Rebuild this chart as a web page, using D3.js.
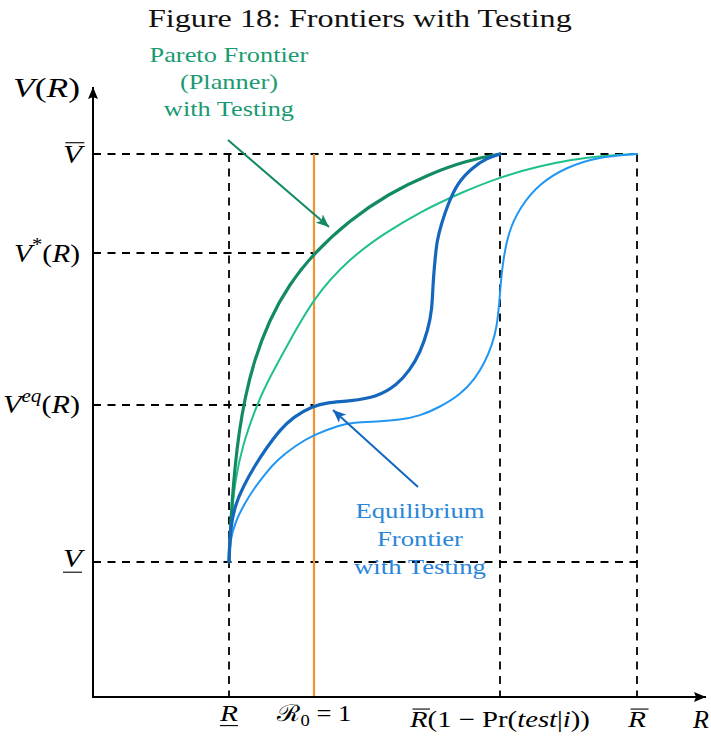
<!DOCTYPE html>
<html><head><meta charset="utf-8">
<script src="https://cdn.jsdelivr.net/npm/d3@7"></script>
<style>html,body{margin:0;padding:0;background:#fff;} svg{display:block;}</style>
</head><body>
<script>
// ---- data (conceptual units) ----
const xLevels = [27.2, 44.2, 81.4, 108.8];          // R_low, R0=1, Rbar(1-Pr(test|i)), Rbar
const yLevels = [27.0, 58.4, 88.8, 108.6];          // V_low, V_eq, V*, V_bar
const paretoX  = [27.2,27.4,27.8,28.4,29.2,30.4,32.2,35.2,39.2,44.2,51.2,59.2,67.2,75.2,81.4];
const paretoY  = [27.0,31.8,38.9,46.1,52.9,59.9,67.2,75.3,82.5,88.8,95.3,100.7,104.6,107.4,108.6];
const paretoNoX = [27.2,27.6,28.4,30.0,32.4,34.4,39.0,44.2,51.4,58.4,65.4,73.4,81.4,89.4,95.4,101.4,108.8];
const paretoNoY = [27.0,35.0,43.4,50.6,57.4,62.2,70.6,80.0,87.8,92.8,97.0,100.8,104.0,106.2,107.4,108.2,108.6];
const eqX = [27.2,27.4,28.4,30.0,32.2,34.8,37.4,40.0,44.0,46.8,51.4,56.8,60.8,63.4,65.4,67.0,67.8,68.0,68.4,68.8,69.8,70.8,72.8,76.0,78.8,81.4];
const eqY = [27.0,33.4,38.4,42.0,46.0,50.0,53.4,56.0,58.2,58.9,59.2,60.0,62.4,65.4,68.8,73.4,77.4,82.8,87.4,91.4,95.0,98.0,102.8,106.0,107.8,108.6];
const eqNoX = [27.2,27.4,28.6,30.4,32.0,34.4,36.8,40.4,44.0,49.4,52.0,56.8,61.4,65.4,69.4,73.4,76.4,78.4,79.8,80.8,81.3,81.6,82.0,83.0,85.4,89.4,94.8,100.8,108.8];
const eqNoY = [27.0,31.4,35.4,38.8,41.4,44.6,47.4,50.2,52.4,54.4,54.9,55.1,55.4,56.2,58.0,60.4,63.6,67.0,70.4,74.0,79.4,83.4,87.0,92.8,98.0,102.8,106.0,108.0,108.6];
const arrowGreen = [[27.0,111.4],[47.2,94.0]];
const arrowBlue  = [[65.0,42.0],[48.0,57.4]];
const titleText  = 'Figure 18: Frontiers with Testing';
const greenLabel = ['Pareto Frontier', '(Planner)', 'with Testing'];
const blueLabel  = ['Equilibrium', 'Frontier', 'with Testing'];

const W = 711, H = 740;
const SERIF = "'Liberation Serif', 'DejaVu Serif', serif";
const svg = d3.select('body').append('svg').attr('width', W).attr('height', H);
const x = d3.scaleLinear().domain([0,122]).range([93,703]);
const y = d3.scaleLinear().domain([0,121]).range([697,92]);

const cPareto = '#138a66', cParetoNo = '#1fc08d', cEq = '#1467bd', cEqNo = '#2196f3', cOrange = '#f39230';

const defs = svg.append('defs');
function marker(id, color, len, wid) {
  defs.append('marker').attr('id', id).attr('viewBox', `0 0 ${len} ${wid}`)
    .attr('refX', len).attr('refY', wid/2).attr('markerWidth', len).attr('markerHeight', wid)
    .attr('markerUnits', 'userSpaceOnUse').attr('orient', 'auto')
    .append('path').attr('d', `M0,0 L${len},${wid/2} L0,${wid} L${len*0.25},${wid/2} Z`).attr('fill', color);
}
marker('mg', cPareto, 13, 11);
marker('mb', cEq, 13, 11);
defs.append('marker').attr('id','mk').attr('viewBox','0 0 12 10').attr('refX',12).attr('refY',5)
  .attr('markerWidth',12).attr('markerHeight',10).attr('markerUnits','userSpaceOnUse').attr('orient','auto')
  .append('path').attr('d','M0,0 L12,5 L0,10 L2,5 Z').attr('fill','#000');

// horizontally stretched serif text (Computer-Modern-like width)
function plainText(str, cx, by, size, color, sx) {
  const g = svg.append('g');
  const t = g.append('text').attr('x', 0).attr('y', by).attr('font-family', SERIF)
    .attr('font-size', size).attr('fill', color).text(str);
  const w = t.node().getComputedTextLength();
  g.attr('transform', `translate(${cx - w*sx/2},0) scale(${sx},1)`);
}
function widthOf(str, size) {
  const t = svg.append('text').attr('font-family', SERIF).attr('font-size', size).text(str);
  const w = t.node().getComputedTextLength(); t.remove(); return w;
}

// title
plainText(titleText, 360, 27, 26, '#111', 424 / widthOf(titleText, 26));

// dashed guides
const [RL, R0, RT, RB] = xLevels;
const [VL, VE, VS, VB] = yLevels;
const dashes = [
  [0, VB, RB, VB], [0, VS, R0, VS], [0, VE, R0, VE], [0, VL, RB, VL],
  [RL, VB, RL, 0], [RT, VB, RT, 0], [RB, VB, RB, 0]
];
svg.append('g').selectAll('line').data(dashes).join('line')
  .attr('x1', d => x(d[0])).attr('y1', d => y(d[1])).attr('x2', d => x(d[2])).attr('y2', d => y(d[3]))
  .attr('stroke', '#000').attr('stroke-width', 1.8).attr('stroke-dasharray', '8,6.5');

// orange R0 = 1 line
svg.append('line').attr('x1', x(R0)).attr('x2', x(R0)).attr('y1', y(VB)).attr('y2', y(0))
  .attr('stroke', cOrange).attr('stroke-width', 2.2);

// curves
const line = d3.line().x(d => x(d[0])).y(d => y(d[1])).curve(d3.curveBasis);
const curves = [
  {xs: paretoNoX, ys: paretoNoY, c: cParetoNo, w: 2},
  {xs: eqNoX, ys: eqNoY, c: cEqNo, w: 2},
  {xs: paretoX, ys: paretoY, c: cPareto, w: 3.2},
  {xs: eqX, ys: eqY, c: cEq, w: 3.2}
];
curves.forEach(cv => {
  svg.append('path').datum(cv.xs.map((v,i) => [v, cv.ys[i]])).attr('d', line)
    .attr('fill','none').attr('stroke', cv.c).attr('stroke-width', cv.w).attr('stroke-linecap','round');
});

// annotation arrows
[[arrowGreen, cPareto, 'mg'], [arrowBlue, cEq, 'mb']].forEach(([a, c, m]) => {
  svg.append('line').attr('x1', x(a[0][0])).attr('y1', y(a[0][1])).attr('x2', x(a[1][0])).attr('y2', y(a[1][1]))
    .attr('stroke', c).attr('stroke-width', 2).attr('marker-end', `url(#${m})`);
});

// axes
svg.append('line').attr('x1', x(0)).attr('y1', y(0)).attr('x2', x(0)).attr('y2', y(122))
  .attr('stroke','#000').attr('stroke-width', 2).attr('marker-end','url(#mk)');
svg.append('line').attr('x1', x(0)-1).attr('y1', y(0)).attr('x2', x(122.6)).attr('y2', y(0))
  .attr('stroke','#000').attr('stroke-width', 2).attr('marker-end','url(#mk)');

// math label helper (stretched horizontally to a target width)
function mathText(parts, px, py, anchor, size, target, color) {
  const g = svg.append('g');
  const t = g.append('text').attr('x', 0).attr('y', py).attr('font-family', SERIF)
    .attr('font-size', size).attr('fill', color || '#000');
  let cur = 0, idx = 0; const decos = [];
  parts.forEach(p => {
    const ts = t.append('tspan').text(p.t);
    if (p.i) ts.attr('font-style', 'italic');
    let off = 0;
    if (p.sup) { ts.attr('font-size', size*0.7); off = -size*0.42; }
    if (p.sub) { ts.attr('font-size', size*0.7); off = size*0.2; }
    if (off !== cur) { ts.attr('dy', off - cur); cur = off; }
    if (p.over || p.under) decos.push({s: idx, e: idx + p.t.length, over: p.over});
    idx += p.t.length;
  });
  const n = t.node();
  const w = n.getComputedTextLength();
  const sx = target ? target / w : 1;
  const vw = w * sx;
  const x0 = anchor === 'end' ? px - vw : anchor === 'middle' ? px - vw/2 : px;
  g.attr('transform', `translate(${x0},0) scale(${sx},1)`);
  decos.forEach(d => {
    const a = n.getStartPositionOfChar(d.s).x, b = n.getEndPositionOfChar(d.e - 1).x;
    const yy = d.over ? py - size*0.78 : py + size*0.2;
    const sk = d.over ? 2 : 0;
    g.append('line').attr('x1', a + sk).attr('x2', b + sk).attr('y1', yy).attr('y2', yy)
      .attr('stroke', color || '#000').attr('stroke-width', 1.1);
  });
}

// y labels
mathText([{t:'V', i:1},{t:'('},{t:'R', i:1},{t:')'}], 13, 97, 'start', 28, 67);
mathText([{t:'V', i:1, over:1}], 82, y(VB) + 9, 'end', 26, 19);
mathText([{t:'V', i:1},{t:'*', sup:1},{t:'('},{t:'R', i:1},{t:')'}], 80, y(VS) + 9, 'end', 26, 66);
mathText([{t:'V', i:1},{t:'eq', i:1, sup:1},{t:'('},{t:'R', i:1},{t:')'}], 80, y(VE) + 8, 'end', 26, 77);
mathText([{t:'V', i:1, under:1}], 82, y(VL) + 5, 'end', 26, 19);

// x labels
mathText([{t:'R', i:1, under:1}], x(RL), 721, 'middle', 23, 18);
mathText([{t:'\u211B', i:0},{t:'0', sub:1},{t:' = 1'}], x(R0), 721, 'middle', 23, 74);
mathText([{t:'R', i:1, over:1},{t:'(1 \u2212 Pr('},{t:'test', i:1},{t:'|'},{t:'i', i:1},{t:'))'}], x(RT), 727, 'middle', 23, 180);
mathText([{t:'R', i:1, over:1}], x(RB), 727, 'middle', 23, 18);
mathText([{t:'R', i:1}], 693, 728, 'start', 26);

// curve labels
{
  const sx = 159 / widthOf(greenLabel[0], 22);
  greenLabel.forEach((d, i) => plainText(d, x(RL), 62 + i*27, 22, '#1a9a72', sx));
}
{
  const sx = 132 / widthOf(blueLabel[2], 22);
  blueLabel.forEach((d, i) => plainText(d, 420, 518 + i*28, 22, '#2a86d8', sx));
}
</script>
</body></html>
